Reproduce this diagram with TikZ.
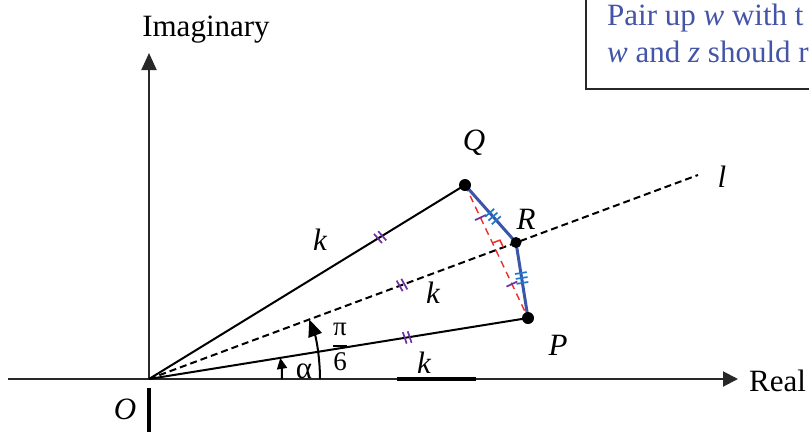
\documentclass[tikz,border=0pt]{standalone}
\usepackage{fontspec}
\setmainfont{Liberation Serif}
\usetikzlibrary{arrows.meta,calc,decorations.markings}
\definecolor{boxblue}{RGB}{68,84,166}
\definecolor{segblue}{RGB}{59,86,168}
\definecolor{tickblue}{RGB}{30,120,205}
\definecolor{tickpurple}{RGB}{112,48,160}
\definecolor{markred}{RGB}{235,45,45}
\definecolor{axisgray}{RGB}{40,40,40}
\begin{document}
\begin{tikzpicture}[x=1pt,y=-1pt,
  lab/.style={font=\fontsize{31}{37}\selectfont, inner sep=0pt},
  ilab/.style={lab, font=\fontsize{31}{37}\selectfont\itshape},
  axisline/.style={axisgray, line width=2pt},
  thickbit/.style={black, line width=3.5pt},
  radius line/.style={black, line width=2pt},
  bisector/.style={black, line width=2pt, dash pattern=on 7pt off 4pt},
  chord/.style={markred, line width=1.4pt, dash pattern=on 7pt off 5pt},
  blueseg/.style={segblue, line width=3pt},
  dotnode/.style={circle, fill=black, inner sep=0pt, minimum size=12pt},
  ptick/.style={postaction={decorate,decoration={markings,mark=at position #1 with {\draw[tickpurple,line width=1.7pt,solid] (-3,-6)--(-1,6) (2,-6)--(4,6);}}}},
  stick/.style={postaction={decorate,decoration={markings,mark=at position #1 with {\draw[tickpurple,line width=1.7pt,solid] (0,-6)--(0,6);}}}},
  btick/.style={postaction={decorate,decoration={markings,mark=at position #1 with {\draw[tickblue,line width=1.7pt,solid] (-5,-6)--(-5,6) (0,-6)--(0,6) (5,-6)--(5,6);}}}},
  arcline/.style={black, line width=2pt}
]
\useasboundingbox (0,0) rectangle (809,432);

% key points
\coordinate (O) at (149,379);
\coordinate (Q) at (465,185);
\coordinate (P) at (528,318);
\coordinate (R) at (516,242.5);
\coordinate (L) at (698,175);
\coordinate (Xs) at (8,379);
\coordinate (Xe) at (738,379);
\coordinate (Yt) at (149,53);
\coordinate (Yb) at (149,388);
\coordinate (Ybb) at (149,432);
\coordinate (Ks) at (397,379);
\coordinate (Ke) at (476,379);

% info box (clipped by the page)
\draw[axisgray, line width=2.5pt] (586,-10) rectangle (840,89);
\node[lab, text=boxblue, anchor=base west] (t1) at (607,25) {Pair up \textit{w} with t};
\node[lab, text=boxblue, anchor=base west] (t2) at (607,62) {\textit{w} and \textit{z} should r};

% axes
\draw[axisline, -{Triangle[length=15pt,width=15pt]}] (Xs) -- (Xe);
\draw[axisline, -{Triangle[length=17pt,width=15pt]}] (O) -- (Yt);
\draw[thickbit] (Yb) -- (Ybb);
\draw[thickbit] (Ks) -- (Ke);
\node[lab, anchor=base] (imag) at (206,36) {Imaginary};
\node[lab, anchor=west] (real) at (749,381) {Real};
\node[ilab] (olab) at (125,409) {O};

% lines from O
\draw[radius line, ptick=0.73] (O) -- (Q);
\draw[radius line, ptick=0.68] (O) -- (P);
\draw[bisector, ptick=0.46] (O) -- (L);
\node[ilab] (llab) at (722,177) {l};

% chord and reflection
\coordinate (X) at (intersection of O--L and Q--P);
\draw[chord, stick=0.5] (Q) -- (X);
\draw[chord, stick=0.5] (X) -- (P);
\coordinate (ra) at ($(X)!8pt!(Q)$);
\coordinate (rb) at ($(X)!8pt!(L)$);
\draw[markred, line width=1.5pt] (ra) -- ($(ra)+(rb)-(X)$) -- (rb);
\draw[blueseg, btick=0.55] (Q) -- (R);
\draw[blueseg, btick=0.47] (R) -- (P);

% angle arcs
\draw[arcline, -{Triangle[length=11pt,width=10pt]}] (282,379) arc[start angle=0, end angle=-9.14, radius=133];
\draw[arcline, -{Triangle[length=17pt,width=14pt]}] (320,379) arc[start angle=0, end angle=-20.38, radius=171];
\node[lab] (alab) at (304,371) {α};
\node[lab, font=\fontsize{27}{30}\selectfont] (frac) at (340,347) {$\displaystyle{\hbox{π}\above 2pt\hbox{6}}$};

% points
\node[dotnode] (Qd) at (Q) {};
\node[dotnode] (Pd) at (P) {};
\node[dotnode, minimum size=11pt] (Rd) at (R) {};
\node[ilab] (qlab) at (474,143) {Q};
\node[ilab] (rlab) at (526,219) {R};
\node[ilab] (plab) at (558,345) {P};

% k labels
\node[ilab] (k1) at (320,240) {k};
\node[ilab] (k2) at (433,293) {k};
\node[ilab] (k3) at (424,363) {k};
\end{tikzpicture}
\end{document}
